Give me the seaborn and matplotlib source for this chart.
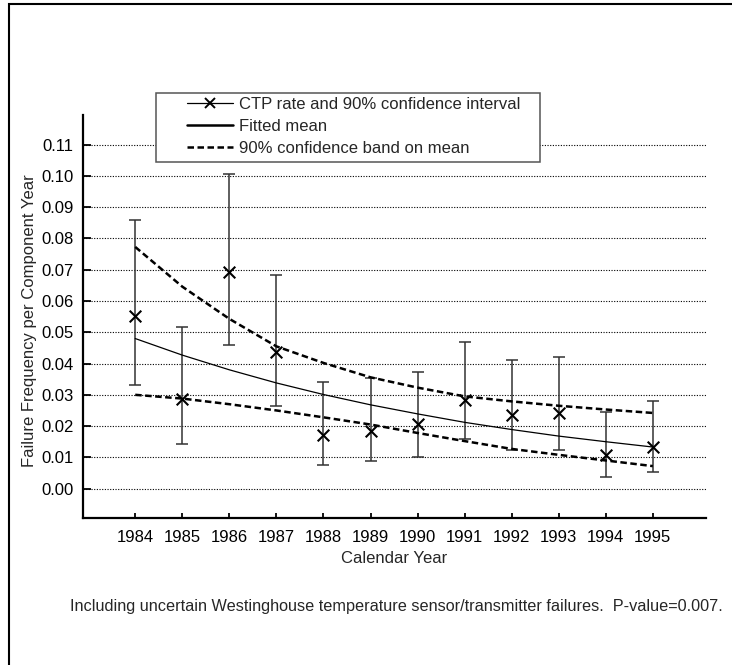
import numpy as np
import pandas as pd
import matplotlib
matplotlib.use('Agg')
import matplotlib.pyplot as plt
import seaborn as sns
from matplotlib.lines import Line2D
from matplotlib.patches import Rectangle

# ---------------- data ----------------
years = [1984, 1985, 1986, 1987, 1988, 1989, 1990, 1991, 1992, 1993, 1994, 1995]
ctp_rate = [0.0551, 0.0288, 0.0693, 0.0437, 0.0173, 0.0185, 0.0208, 0.0285, 0.0237, 0.0242, 0.0107, 0.0133]
ci_upper = [0.0860, 0.0517, 0.1005, 0.0682, 0.0341, 0.0353, 0.0372, 0.0469, 0.0412, 0.0420, 0.0245, 0.0280]
ci_lower = [0.0332, 0.0142, 0.0458, 0.0263, 0.0075, 0.0087, 0.0101, 0.0159, 0.0124, 0.0125, 0.0036, 0.0052]
fitted_mean = [0.0480, 0.0427, 0.0380, 0.0338, 0.0301, 0.0268, 0.0239, 0.0212, 0.0189, 0.0168, 0.0150, 0.0133]
band_upper = [0.0773, 0.0646, 0.0543, 0.0455, 0.0402, 0.0356, 0.0323, 0.0295, 0.0279, 0.0265, 0.0253, 0.0242]
band_lower = [0.0300, 0.0288, 0.0270, 0.0250, 0.0228, 0.0205, 0.0178, 0.0152, 0.0127, 0.0108, 0.0090, 0.0072]
y_ticks = [0.00, 0.01, 0.02, 0.03, 0.04, 0.05, 0.06, 0.07, 0.08, 0.09, 0.10, 0.11]
legend_labels = ["CTP rate and 90% confidence interval", "Fitted mean", "90% confidence band on mean"]
x_label = "Calendar Year"
y_label = "Failure Frequency per Component Year"
caption = "Including uncertain Westinghouse temperature sensor/transmitter failures.  P-value=0.007."

df = pd.DataFrame({"year": years, "rate": ctp_rate, "lo": ci_lower, "hi": ci_upper,
                   "fit": fitted_mean, "bup": band_upper, "blo": band_lower})

# ---------------- style ----------------
sns.set_style("white")
plt.rcParams['font.family'] = ['Liberation Sans', 'DejaVu Sans']
FS = 12

W, H = 732, 665
fig = plt.figure(figsize=(W / 100, H / 100), dpi=100)
ax = fig.add_axes([83 / W, 1 - 518 / H, (706 - 83) / W, (518 - 115) / H])

# grid
for yt in y_ticks:
    ax.axhline(yt, color='black', lw=0.8, ls=(0, (1, 1.4)), zorder=0)

# error bars
ax.errorbar(df["year"], df["rate"],
            yerr=[df["rate"] - df["lo"], df["hi"] - df["rate"]],
            fmt='none', ecolor='#333333', elinewidth=1.1, capsize=4, capthick=1.1, zorder=2)
sns.scatterplot(data=df, x="year", y="rate", marker='x', s=70, color='black',
                linewidth=1.5, ax=ax, zorder=3, legend=False)

# fitted mean and bands
sns.lineplot(data=df, x="year", y="fit", color='black', lw=0.9, ax=ax, zorder=2)
sns.lineplot(data=df, x="year", y="bup", color='black', lw=1.8, ax=ax, zorder=2)
sns.lineplot(data=df, x="year", y="blo", color='black', lw=1.8, ax=ax, zorder=2)
ax.lines[-1].set_linestyle((0, (2.6, 1.4)))
ax.lines[-2].set_linestyle((0, (2.6, 1.4)))

ax.set_xlim(1982.89, 1996.13)
ax.set_ylim(-0.0094, 0.1195)
ax.set_xticks(years)
ax.set_xticklabels([str(y) for y in years])
ax.set_yticks(y_ticks)
ax.set_yticklabels([f"{v:.2f}" for v in y_ticks])

for s in ['top', 'right']:
    ax.spines[s].set_visible(False)
for s in ['left', 'bottom']:
    ax.spines[s].set_linewidth(1.6)
    ax.spines[s].set_color('black')
ax.tick_params(axis='y', direction='in', length=6, width=1.3, pad=7, labelsize=FS, colors='black')
ax.tick_params(axis='x', direction='in', length=3.5, width=1.3, pad=9, labelsize=FS, colors='black')
ax.tick_params(left=True, bottom=True)

ax.set_xlabel(x_label, fontsize=FS)
ax.set_ylabel(y_label, fontsize=FS)
ax.xaxis.set_label_coords(0.499, -0.082)
ax.yaxis.set_label_coords(-0.074, 0.49)

# legend with custom frame
fig.add_artist(Rectangle((156 / W, 1 - 162 / H), (540 - 156) / W, (162 - 93) / H,
                         transform=fig.transFigure, fill=True, facecolor='white',
                         edgecolor='#555555', lw=1.1, zorder=5))
handles = [Line2D([], [], color='black', lw=0.9, marker='x', markersize=7, markeredgewidth=1.4),
           Line2D([], [], color='black', lw=1.8),
           Line2D([], [], color='black', lw=1.8, ls=(0, (2.6, 1.4)))]
leg = fig.legend(handles, legend_labels, loc='upper left',
                 bbox_to_anchor=(183 / W, 1 - 93 / H), frameon=False, fontsize=FS,
                 borderpad=0.22, borderaxespad=0, handlelength=2.8, handletextpad=0.35,
                 labelspacing=0.42)
leg.set_zorder(6)

# figure border (left and top visible)
fig.add_artist(Rectangle((9 / W, -0.5), 2.0, 0.5 + (1 - 4 / H),
                         transform=fig.transFigure, fill=False, edgecolor='black', lw=1.5))

# caption
fig.text(70 / W, 1 - 607 / H, caption, fontsize=11.7, ha='left', va='center')

fig.savefig('out.png', dpi=100)
